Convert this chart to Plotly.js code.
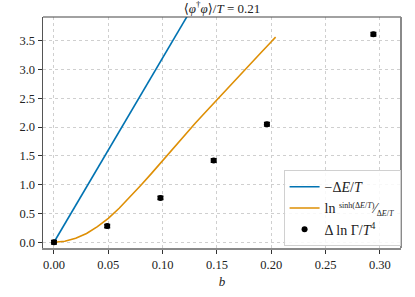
<!DOCTYPE html>
<html>
<head>
<meta charset="utf-8">
<script src="https://cdn.plot.ly/plotly-3.0.1.min.js"></script>
<style>html,body{margin:0;padding:0;background:#fff;}#chart{width:415px;height:297px;}</style>
</head>
<body>
<div id="chart"></div>
<script>
// Blue line: -ΔE/T
const bLine = [0, 0.05, 0.10, 0.15, 0.20];
const negDE = [0, 1.60, 3.20, 4.80, 6.40];

// Orange curve: ln(sinh(ΔE/T)/(ΔE/T))
const bCurve = [0, 0.01, 0.02, 0.03, 0.04, 0.05, 0.06, 0.07, 0.08, 0.09, 0.10, 0.11, 0.12, 0.13, 0.14, 0.15, 0.16, 0.17, 0.18, 0.19, 0.20, 0.204];
const lnSinh = [0, 0.017, 0.068, 0.153, 0.27, 0.415, 0.59, 0.785, 0.99, 1.20, 1.42, 1.64, 1.855, 2.065, 2.27, 2.475, 2.68, 2.88, 3.08, 3.28, 3.48, 3.56];

// Data points: Δ ln Γ / T^4
const bPts = [0, 0.049, 0.098, 0.147, 0.196, 0.294];
const dLnGamma = [0.00, 0.28, 0.77, 1.42, 2.05, 3.61];
const dLnGammaErr = [0.03, 0.03, 0.03, 0.03, 0.03, 0.03];

// Axis ticks
const xTicks = [0, 0.05, 0.10, 0.15, 0.20, 0.25, 0.30];
const yTicks = [0, 0.5, 1.0, 1.5, 2.0, 2.5, 3.0, 3.5];

const FONT = "Liberation Serif, DejaVu Serif, serif";

const traces = [
  {
    x: bLine, y: negDE, mode: 'lines', type: 'scatter',
    line: {color: '#0173B2', width: 1.6},
    name: '−Δ<i>E</i>/<i>T</i>'
  },
  {
    x: bCurve, y: lnSinh, mode: 'lines', type: 'scatter',
    line: {color: '#DE8F05', width: 1.6},
    name: 'ln <sup><span style="font-size:8px">sinh(Δ<i>E</i>/<i>T</i>)</span></sup>⁄<sub><span style="font-size:8px">Δ<i>E</i>/<i>T</i></span></sub>'
  },
  {
    x: bPts, y: dLnGamma, mode: 'markers', type: 'scatter',
    marker: {color: '#000', size: 6, symbol: 'circle'},
    error_y: {type: 'data', array: dLnGammaErr, visible: true, color: '#000', thickness: 1.5, width: 3},
    name: 'Δ ln Γ/<i>T</i><sup>4</sup>'
  }
];

const layout = {
  width: 415, height: 297,
  margin: {l: 43, r: 14, t: 17, b: 49, pad: 0},
  paper_bgcolor: '#fff', plot_bgcolor: '#fff',
  font: {family: FONT, size: 12, color: '#222'},
  showlegend: true,
  title: {
    text: '⟨<i>φ</i><sup>†</sup><i>φ</i>⟩/<i>T</i> = 0.21',
    font: {family: FONT, size: 13, color: '#222'},
    x: 0.5, xref: 'paper', xanchor: 'center',
    y: 1 - 8/297, yref: 'container', yanchor: 'middle'
  },
  xaxis: {
    range: [-0.0101, 0.3194],
    tickvals: xTicks, tickformat: '.2f',
    ticks: 'outside', ticklen: 4, tickwidth: 1, tickcolor: '#333',
    showgrid: true, gridcolor: '#cfcfcf', griddash: 'dot', gridwidth: 1,
    zeroline: false,
    showline: true, linecolor: '#8a8a8a', linewidth: 2,
    tickfont: {family: FONT, size: 12.5, color: '#222'},
    title: {text: '<i>b</i>', font: {family: FONT, size: 13, color: '#222'}, standoff: 6},
    automargin: false
  },
  yaxis: {
    range: [-0.1, 3.91],
    tickvals: yTicks, tickformat: '.1f',
    ticks: 'outside', ticklen: 4, tickwidth: 1, tickcolor: '#333',
    showgrid: true, gridcolor: '#cfcfcf', griddash: 'dot', gridwidth: 1,
    zeroline: false,
    showline: true, linecolor: '#555', linewidth: 1.5,
    tickfont: {family: FONT, size: 12.5, color: '#222'},
    automargin: false
  },
  shapes: [
    {type: 'line', xref: 'paper', yref: 'paper', x0: 0, x1: 1, y0: 1, y1: 1, line: {color: '#444', width: 1.2}},
    {type: 'line', xref: 'paper', yref: 'paper', x0: 1, x1: 1, y0: 0, y1: 1, line: {color: '#8a8a8a', width: 2}}
  ],
  legend: {
    x: 0.672, y: 0.337, xanchor: 'left', yanchor: 'top',
    bgcolor: 'rgba(255,255,255,0.85)', bordercolor: '#d0d0d0', borderwidth: 1,
    font: {family: FONT, size: 14, color: '#222'},
    itemwidth: 30, tracegroupgap: 0
  }
};

Plotly.newPlot('chart', traces, layout, {staticPlot: true, displayModeBar: false});
</script>
</body>
</html>
